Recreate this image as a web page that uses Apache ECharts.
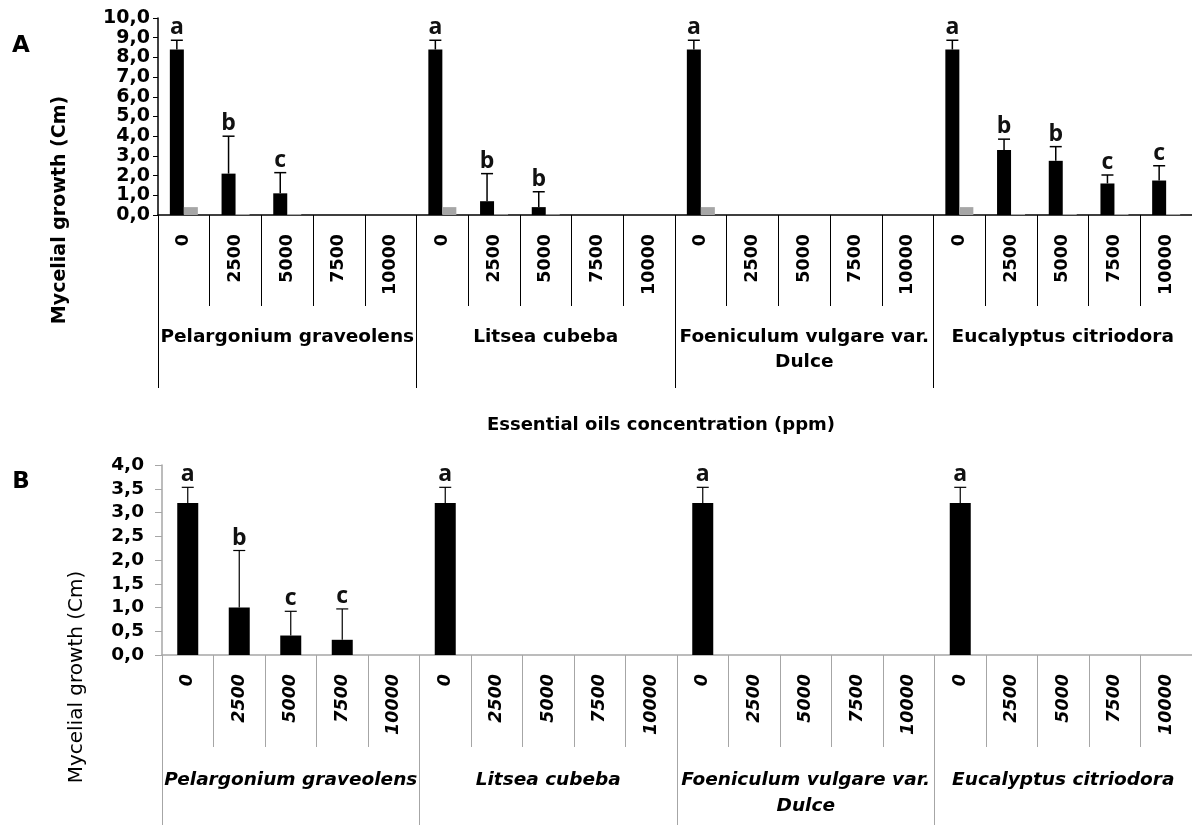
<!DOCTYPE html>
<html>
<head>
<meta charset="utf-8">
<script src="https://cdn.jsdelivr.net/npm/echarts@6/dist/echarts.min.js"></script>
<style>html,body{margin:0;padding:0;background:#fff}#c{width:1192px;height:825px}</style>
</head>
<body>
<div id="c"></div>
<script>
// ---------- data ----------
const concentrations = ['0','2500','5000','7500','10000','0','2500','5000','7500','10000','0','2500','5000','7500','10000','0','2500','5000','7500','10000'];
const groups = ['Pelargonium graveolens','Litsea cubeba','Foeniculum vulgare var.\nDulce','Eucalyptus citriodora'];
const yTicksA = [0,1,2,3,4,5,6,7,8,9,10];
const yTicksB = [0,0.5,1,1.5,2,2.5,3,3.5,4];

// Panel A (black = main series, gray = second series)
const meanA  = [8.4,2.1,1.1,0,0, 8.4,0.7,0.4,0,0, 8.4,0,0,0,0, 8.4,3.3,2.75,1.6,1.75];
const errTopA= [8.87,4.0,2.15,null,null, 8.87,2.1,1.18,null,null, 8.87,null,null,null,null, 8.87,3.85,3.47,2.03,2.5];
const grayA  = [0.4,0.05,0.05,0,0, 0.4,0.04,0.04,0,0, 0.4,0,0,0,0, 0.4,0.05,0.05,0.05,0.05];
const lettersA = ['a','b','c','','', 'a','b','b','','', 'a','','','','', 'a','b','b','c','c'];

// Panel B
const meanB  = [3.2,1.0,0.41,0.32,0, 3.2,0,0,0,0, 3.2,0,0,0,0, 3.2,0,0,0,0];
const errTopB= [3.53,2.2,0.92,0.97,null, 3.53,null,null,null,null, 3.53,null,null,null,null, 3.53,null,null,null,null];
const lettersB = ['a','b','c','c','', 'a','','','','', 'a','','','','', 'a','','','',''];

// ---------- helpers ----------
const fmt = v => v.toFixed(1).replace('.', ',');
function errData(means, tops){
  return means.map((m,i)=>[i, m, tops[i] == null ? m : tops[i]]);
}
function errRender(letters, dx, lw){
  return function(params, api){
    const i = api.value(0), m = api.value(1), t = api.value(2);
    const base = api.coord([i, m]);
    const top = api.coord([i, t]);
    const x = base[0] + dx;
    const children = [];
    if (t > m) {
      children.push({type:'line', shape:{x1:x, y1:base[1], x2:x, y2:top[1]}, style:{stroke:'#000', lineWidth:lw}});
      children.push({type:'line', shape:{x1:x-6, y1:top[1], x2:x+6, y2:top[1]}, style:{stroke:'#000', lineWidth:lw}});
    }
    const L = letters[params.dataIndex];
    if (L) {
      children.push({type:'text', x:x, y:top[1]-1, style:{text:L, fill:'#111', font:'bold 23px "Open Sans", sans-serif', align:'center', verticalAlign:'bottom'}});
    }
    return {type:'group', children};
  };
}

const fontBold = '"DejaVu Sans", sans-serif';

const option = {
  animation:false,
  backgroundColor:'#fff',
  grid:[
    {left:158, top:18, width:1036, height:197},
    {left:162, top:465, width:1033, height:190}
  ],
  xAxis:[
    { gridIndex:0, type:'category', position:'bottom', data:concentrations, boundaryGap:true,
      axisLine:{show:true, lineStyle:{color:'#000', width:1.5}},
      axisTick:{show:true, interval:0, length:91, lineStyle:{color:'#000', width:1}},
      axisLabel:{interval:0, rotate:90, margin:19, color:'#000', fontFamily:fontBold, fontWeight:'bold', fontSize:17.5},
      splitLine:{show:false} },
    { gridIndex:0, type:'category', position:'bottom', data:groups, boundaryGap:true,
      axisLine:{show:false},
      axisTick:{show:true, interval:0, length:173, lineStyle:{color:'#000', width:1}},
      axisLabel:{interval:0, margin:110, color:'#000', fontFamily:fontBold, fontWeight:'bold', fontSize:18.5, lineHeight:25},
      splitLine:{show:false} },
    { gridIndex:1, type:'category', position:'bottom', data:concentrations, boundaryGap:true,
      axisLine:{show:true, lineStyle:{color:'#a6a6a6', width:1.5}},
      axisTick:{show:true, interval:0, length:92, lineStyle:{color:'#a6a6a6', width:1}},
      axisLabel:{interval:0, rotate:90, margin:19, color:'#000', fontFamily:fontBold, fontWeight:'bold', fontStyle:'italic', fontSize:17.5},
      splitLine:{show:false} },
    { gridIndex:1, type:'category', position:'bottom', data:groups, boundaryGap:true,
      axisLine:{show:false},
      axisTick:{show:true, interval:0, length:172, lineStyle:{color:'#a6a6a6', width:1}},
      axisLabel:{interval:0, margin:112, color:'#000', fontFamily:fontBold, fontWeight:'bold', fontStyle:'italic', fontSize:18.5, lineHeight:26},
      splitLine:{show:false} }
  ],
  yAxis:[
    { gridIndex:0, type:'value', min:yTicksA[0], max:yTicksA[yTicksA.length-1], interval:1,
      axisLine:{show:true, lineStyle:{color:'#000', width:1.5}},
      axisTick:{show:true, length:5, lineStyle:{color:'#000'}},
      axisLabel:{margin:8, color:'#000', fontFamily:fontBold, fontWeight:'bold', fontSize:19, formatter:fmt},
      splitLine:{show:false} },
    { gridIndex:1, type:'value', min:yTicksB[0], max:yTicksB[yTicksB.length-1], interval:0.5,
      axisLine:{show:true, lineStyle:{color:'#a6a6a6', width:1.5}},
      axisTick:{show:true, length:7, lineStyle:{color:'#a6a6a6'}},
      axisLabel:{margin:18, color:'#000', fontFamily:fontBold, fontWeight:'bold', fontSize:18.5, formatter:fmt},
      splitLine:{show:false} }
  ],
  series:[
    { type:'bar', xAxisIndex:0, yAxisIndex:0, data:meanA, barWidth:14, barGap:'0%', itemStyle:{color:'#000'} },
    { type:'bar', xAxisIndex:0, yAxisIndex:0, data:grayA, barWidth:14, barGap:'0%', itemStyle:{color:'#a6a6a6'} },
    { type:'custom', xAxisIndex:0, yAxisIndex:0, data:errData(meanA, errTopA), encode:{x:0, y:[1,2]},
      renderItem:errRender(lettersA, -7, 1.5), z:10 },
    { type:'bar', xAxisIndex:2, yAxisIndex:1, data:meanB, barWidth:21, itemStyle:{color:'#000'} },
    { type:'custom', xAxisIndex:2, yAxisIndex:1, data:errData(meanB, errTopB), encode:{x:0, y:[1,2]},
      renderItem:errRender(lettersB, 0, 1.2), z:10 }
  ],
  graphic:[
    {type:'text', x:21, y:46, style:{text:'A', fill:'#000', font:'bold 23px "DejaVu Sans", sans-serif', align:'center', verticalAlign:'middle'}},
    {type:'text', x:21, y:482, style:{text:'B', fill:'#000', font:'bold 23px "DejaVu Sans", sans-serif', align:'center', verticalAlign:'middle'}},
    {type:'text', x:60, y:210, rotation:Math.PI/2, style:{text:'Mycelial growth (Cm)', fill:'#000', font:'bold 19px "DejaVu Sans", sans-serif', align:'center', verticalAlign:'middle'}},
    {type:'text', x:77, y:677, rotation:Math.PI/2, style:{text:'Mycelial growth (Cm)', fill:'#000', font:'20px "DejaVu Sans", sans-serif', align:'center', verticalAlign:'middle'}},
    {type:'text', x:661, y:425, style:{text:'Essential oils concentration (ppm)', fill:'#000', font:'bold 18px "DejaVu Sans", sans-serif', align:'center', verticalAlign:'middle'}}
  ]
};

const chart = echarts.init(document.getElementById('c'), null, {renderer:'canvas'});
chart.setOption(option);
</script>
</body>
</html>
